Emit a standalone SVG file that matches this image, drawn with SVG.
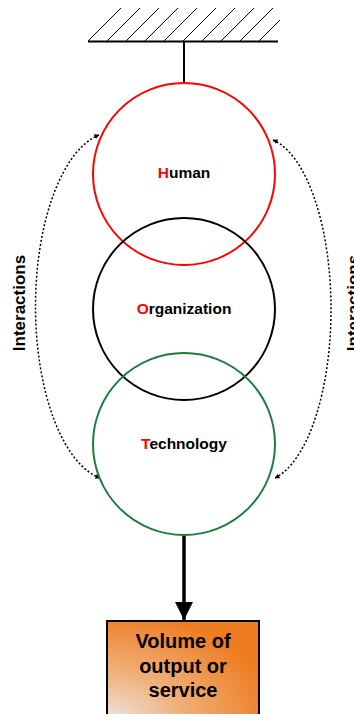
<svg xmlns="http://www.w3.org/2000/svg" width="354" height="714" viewBox="0 0 354 714">
  <style>
    .ring { fill: none; stroke-width: 2; }
    .lbl { font-family: "Liberation Sans", Arial, sans-serif; font-weight: bold; fill: #000; text-anchor: middle; }
    .hatch { stroke: #000; stroke-width: 1; }
    .dots { fill: none; stroke: #000; stroke-width: 1.5; stroke-dasharray: 2 2; }
  </style>
  <defs>
    <marker id="tipSmall" viewBox="0 0 10 10" refX="9" refY="5" markerWidth="5" markerHeight="5" markerUnits="userSpaceOnUse" orient="auto-start-reverse">
      <path d="M0,0 L10,5 L0,10 z" fill="#000"/>
    </marker>
    <marker id="tipBig" viewBox="0 0 10 10" refX="10" refY="5" markerWidth="18" markerHeight="20" markerUnits="userSpaceOnUse" orient="auto">
      <path d="M0,0 L10,5 L0,10 z" fill="#000"/>
    </marker>
    <radialGradient id="orangeFill" cx="0" cy="1" r="1.1" gradientUnits="objectBoundingBox">
      <stop offset="0" stop-color="#ebe7e3"/>
      <stop offset="0.45" stop-color="#f0b07a"/>
      <stop offset="1" stop-color="#ee7d22"/>
    </radialGradient>
    <clipPath id="groundClip">
      <rect x="88" y="0" width="192" height="42"/>
    </clipPath>
  </defs>

  <!-- fixed support -->
  <g id="support">
    <g clip-path="url(#groundClip)">
      <line class="hatch" x1="88" y1="41" x2="121" y2="8"/>
      <line class="hatch" x1="107" y1="41" x2="140" y2="8"/>
      <line class="hatch" x1="126" y1="41" x2="159" y2="8"/>
      <line class="hatch" x1="145" y1="41" x2="178" y2="8"/>
      <line class="hatch" x1="164" y1="41" x2="197" y2="8"/>
      <line class="hatch" x1="183" y1="41" x2="216" y2="8"/>
      <line class="hatch" x1="202" y1="41" x2="235" y2="8"/>
      <line class="hatch" x1="221" y1="41" x2="254" y2="8"/>
      <line class="hatch" x1="240" y1="41" x2="273" y2="8"/>
      <line class="hatch" x1="259" y1="41" x2="292" y2="8"/>
    </g>
    <line x1="88" y1="41.5" x2="278" y2="41.5" stroke="#000" stroke-width="2"/>
  </g>

  <g id="connectors">
    <line x1="184" y1="42" x2="184" y2="83" stroke="#000" stroke-width="2"/>
    <line x1="184" y1="535" x2="184" y2="620" stroke="#000" stroke-width="3.5" marker-end="url(#tipBig)"/>
    <path class="dots" d="M99,135 A77,174 0 0 0 100,478" marker-start="url(#tipSmall)" marker-end="url(#tipSmall)"/>
    <path class="dots" d="M273,140 A70,172 0 0 1 275,478" marker-start="url(#tipSmall)" marker-end="url(#tipSmall)"/>
  </g>

  <g id="human">
    <circle class="ring" cx="184" cy="174" r="91" stroke="#ff0000"/>
    <text class="lbl" x="184" y="178" font-size="15.5"><tspan fill="#ff0000">H</tspan>uman</text>
  </g>

  <g id="organization">
    <circle class="ring" cx="184" cy="309" r="91" stroke="#000"/>
    <text class="lbl" x="184" y="314" font-size="15.5"><tspan fill="#ff0000">O</tspan>rganization</text>
  </g>

  <g id="technology">
    <circle class="ring" cx="184" cy="444" r="91" stroke="#1e7b3c"/>
    <text class="lbl" x="184" y="449" font-size="15.5"><tspan fill="#ff0000">T</tspan>echnology</text>
  </g>

  <g id="output">
    <rect x="107" y="621" width="152" height="100" fill="url(#orangeFill)" stroke="#000" stroke-width="2"/>
    <text class="lbl" x="183" y="648" font-size="20">Volume of</text>
    <text class="lbl" x="183" y="673" font-size="20">output or</text>
    <text class="lbl" x="183" y="697" font-size="20">service</text>
  </g>

  <g id="interactions-left">
    <text class="lbl" transform="translate(25,303) rotate(-90)" font-size="17">Interactions</text>
  </g>
  <g id="interactions-right">
    <text class="lbl" transform="translate(359,303) rotate(-90)" font-size="17">Interactions</text>
  </g>
</svg>
